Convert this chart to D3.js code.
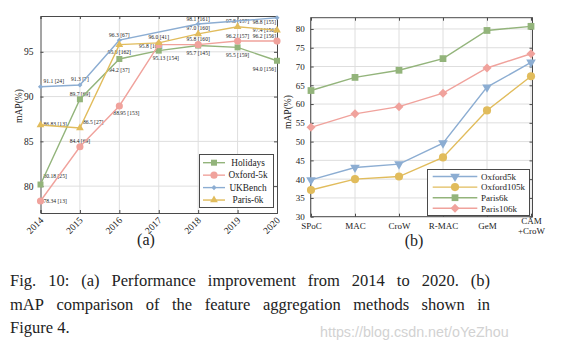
<!DOCTYPE html>
<html>
<head>
<meta charset="utf-8">
<script src="https://cdn.jsdelivr.net/npm/d3@7/dist/d3.min.js"></script>
<style>
  html, body { margin: 0; padding: 0; background: #fff; }
  svg { display: block; }
  text { font-family: "Liberation Serif", "Times New Roman", serif; fill: #222; }
  text.wm { font-family: "Liberation Sans", Arial, sans-serif; fill: #d2d2d2; }
</style>
</head>
<body>
<svg id="chart" width="564" height="353"></svg>
<script>
// ---------- DATA (a) ----------
const years = [2014, 2015, 2016, 2017, 2018, 2019, 2020];
const holidays = [80.18, 89.7, 94.2, 95.13, 95.7, 95.5, 94.0];
const oxford5k = [78.34, 84.4, 88.95, 95.8, 95.8, 96.2, 96.2];
const ukbench  = [91.1, 91.3, 96.3, null, 98.1, null, 98.8];
const paris6k  = [86.83, 86.5, 95.8, 96.0, 97.0, 97.8, 97.4];
const holidaysLabels = ["80.18 [25]", "89.7 [69]", "94.2 [37]", "95.13 [154]", "95.7 [145]", "95.5 [159]", "94.0 [156]"];
const oxford5kLabels = ["78.34 [13]", "84.4 [69]", "88.95 [153]", "95.8 [160]", "95.8 [160]", "96.2 [157]", "96.2 [156]"];
const ukbenchLabels  = ["91.1 [24]", "91.3 [7]", "96.3 [67]", null, "98.1 [161]", null, "98.8 [155]"];
const paris6kLabels  = ["86.83 [13]", "86.5 [27]", "95.8 [162]", "96.0 [41]", "97.0 [160]", "97.8 [157]", "97.4 [156]"];
const yTicksA = [80, 85, 90, 95];

// ---------- DATA (b) ----------
const methods = ["SPoC", "MAC", "CroW", "R-MAC", "GeM", "CAM+CroW"];
const oxford5kB   = [39.8, 43.1, 44.0, 49.6, 64.5, 71.1];
const oxford105kB = [37.1, 40.0, 40.7, 45.8, 58.3, 67.4];
const paris6kB    = [63.6, 67.1, 69.0, 72.1, 79.6, 80.7];
const paris106kB  = [53.8, 57.4, 59.3, 62.9, 69.6, 73.4];
const yTicksB = [30, 35, 40, 45, 50, 55, 60, 65, 70, 75, 80];

// ---------- STYLE ----------
const C = { green: "#93b47b", pink: "#f0a29c", blue: "#8cadd2", yellow: "#e1bc5c" };
const frameColor = "#4a4a4a", gridColor = "#dedede";

// label placement codes for (a): [anchor, dx, dy]
const place = {
  a: ["middle", 0, -3.5], b: ["middle", 0, 9.5], bb: ["middle", 0, 13],
  br: ["start", -6, 9.5], r: ["start", 3, 1.5], ru: ["start", 3, -4], ruu: ["start", 3, -7],
  lc: ["end", 3.5, 3.5], le: ["end", -1, 6], lf: ["end", -1, 1.5], la: ["end", -1, -3], lb: ["end", -1, 10]
};
const seriesA = [
  { name: "Holidays",  vals: holidays, labels: holidaysLabels, color: C.green,  sym: "square",
    pos: ["ruu", "a", "bb", "br", "b", "b", "lb"] },
  { name: "Oxford-5k", vals: oxford5k, labels: oxford5kLabels, color: C.pink,   sym: "circle",
    pos: ["r", "a", "br", "lc", "a", "a", "la"] },
  { name: "UKBench",   vals: ukbench,  labels: ukbenchLabels,  color: C.blue,   sym: "diamondS",
    pos: ["ru", "a", "a", null, "a", null, "le"] },
  { name: "Paris-6k",  vals: paris6k,  labels: paris6kLabels,  color: C.yellow, sym: "triangle",
    pos: ["r", "ru", "b", "a", "a", "a", "lf"] }
];
const seriesB = [
  { name: "Oxford5k",   vals: oxford5kB,   color: C.blue,   sym: "triDown" },
  { name: "Oxford105k", vals: oxford105kB, color: C.yellow, sym: "circleB" },
  { name: "Paris6k",    vals: paris6kB,    color: C.green,  sym: "squareB" },
  { name: "Paris106k",  vals: paris106kB,  color: C.pink,   sym: "diamondB" }
];

const svg = d3.select("#chart");
svg.append("rect").attr("width", 564).attr("height", 353).attr("fill", "#fff");

function marker(g, sym, color, x, y) {
  let type, size, rot = 0;
  switch (sym) {
    case "square":   type = d3.symbolSquare; size = 36; break;
    case "circle":   type = d3.symbolCircle; size = 40; break;
    case "diamondS": type = d3.symbolSquare; size = 13; rot = 45; break;
    case "triangle": type = d3.symbolTriangle; size = 26; break;
    case "triDown":  type = d3.symbolTriangle; size = 40; rot = 180; break;
    case "circleB":  type = d3.symbolCircle; size = 52; break;
    case "squareB":  type = d3.symbolSquare; size = 46; break;
    case "diamondB": type = d3.symbolSquare; size = 40; rot = 45; break;
  }
  g.append("path").attr("d", d3.symbol().type(type).size(size)())
    .attr("transform", `translate(${x},${y}) rotate(${rot})`)
    .attr("fill", color);
}

// ================= CHART (a) =================
const xA = d3.scaleLinear().domain([2014, 2020]).range([40.5, 277]);
const yA = d3.scaleLinear().domain([77, 99]).range([213, 16]);
const gA = svg.append("g");

gA.append("g").selectAll("line").data(years.slice(1, -1)).join("line")
  .attr("x1", d => xA(d)).attr("x2", d => xA(d)).attr("y1", yA(77)).attr("y2", yA(99))
  .attr("stroke", gridColor).attr("stroke-width", 1);
gA.append("g").selectAll("line").data(yTicksA).join("line")
  .attr("x1", xA(2014)).attr("x2", xA(2020)).attr("y1", d => yA(d)).attr("y2", d => yA(d))
  .attr("stroke", gridColor).attr("stroke-width", 1);

const axLA = gA.append("g").attr("transform", `translate(${xA(2014)},0)`)
  .call(d3.axisLeft(yA).tickValues(yTicksA).tickSize(-3).tickPadding(7).tickFormat(d3.format("d")));
const axBA = gA.append("g").attr("transform", `translate(0,${yA(77)})`)
  .call(d3.axisBottom(xA).tickValues(years).tickSize(-3).tickFormat(d3.format("d")));
gA.append("g").attr("transform", `translate(${xA(2020)},0)`)
  .call(d3.axisRight(yA).tickValues(yTicksA).tickSize(-3).tickFormat(""));
gA.append("g").attr("transform", `translate(0,${yA(99)})`)
  .call(d3.axisTop(xA).tickValues(years).tickSize(-3).tickFormat(""));
gA.selectAll(".domain").attr("stroke", frameColor);
gA.selectAll(".tick line").attr("stroke", frameColor);
axLA.selectAll("text").attr("font-size", 9.5).attr("font-family", "Liberation Serif").attr("fill", "#222");
axBA.selectAll("text").attr("font-size", 9.5).attr("font-family", "Liberation Serif").attr("fill", "#222")
  .attr("text-anchor", "end").attr("dy", 0).attr("y", 0)
  .attr("transform", "translate(3,8) rotate(-45)");

gA.append("text").attr("transform", "translate(21.5,106) rotate(-90)")
  .attr("text-anchor", "middle").attr("font-size", 9.5).text("mAP(%)");

const labA = gA.append("g");
seriesA.forEach(s => {
  s.vals.forEach((v, i) => {
    if (v == null || !s.labels[i]) return;
    const p = place[s.pos[i]];
    labA.append("text").attr("x", xA(years[i]) + p[1]).attr("y", yA(v) + p[2])
      .attr("text-anchor", p[0]).attr("font-size", 5.6).attr("fill", "#333").text(s.labels[i]);
  });
});

const lineA = d3.line().x(d => xA(d[0])).y(d => yA(d[1]));
seriesA.forEach(s => {
  const pts = years.map((y, i) => [y, s.vals[i]]).filter(d => d[1] != null);
  gA.append("path").attr("d", lineA(pts)).attr("fill", "none")
    .attr("stroke", s.color).attr("stroke-width", 1.4);
  const mg = gA.append("g");
  pts.forEach(d => marker(mg, s.sym, s.color, xA(d[0]), yA(d[1])));
});

const legA = gA.append("g");
legA.append("rect").attr("x", 199.5).attr("y", 154.5).attr("width", 74).attr("height", 53)
  .attr("fill", "#fff").attr("stroke", frameColor).attr("stroke-width", 1);
seriesA.forEach((s, i) => {
  const y = 162.7 + i * 12.45;
  legA.append("line").attr("x1", 203).attr("x2", 225).attr("y1", y).attr("y2", y)
    .attr("stroke", s.color).attr("stroke-width", 1.4);
  marker(legA, s.sym, s.color, 214, y);
  legA.append("text").attr("x", 248).attr("y", y + 3.2).attr("text-anchor", "middle")
    .attr("font-size", 9.3).text(s.name);
});

gA.append("text").attr("x", 146).attr("y", 245).attr("text-anchor", "middle")
  .attr("font-size", 16).text("(a)");

// ================= CHART (b) =================
const xB = d3.scalePoint().domain(methods).range([311, 531]);
const yB = d3.scaleLinear().domain([30, 83]).range([216.7, 17.7]);
const gB = svg.append("g");
const bx0 = 310.7, bx1 = 532.5;

gB.append("g").selectAll("line").data(methods).join("line")
  .attr("x1", d => xB(d)).attr("x2", d => xB(d)).attr("y1", yB(30)).attr("y2", yB(83))
  .attr("stroke", gridColor).attr("stroke-width", 1);
gB.append("g").selectAll("line").data(yTicksB).join("line")
  .attr("x1", bx0).attr("x2", bx1).attr("y1", d => yB(d)).attr("y2", d => yB(d))
  .attr("stroke", gridColor).attr("stroke-width", 1);

const axLB = gB.append("g").attr("transform", `translate(${bx0},0)`)
  .call(d3.axisLeft(yB).tickValues(yTicksB).tickSize(-3).tickPadding(6).tickFormat(d3.format("d")));
gB.append("g").attr("transform", `translate(${bx1},0)`)
  .call(d3.axisRight(yB).tickValues(yTicksB).tickSize(-3).tickFormat(""));
gB.append("g").attr("transform", `translate(0,${yB(83)})`)
  .call(d3.axisTop(xB).tickSize(-3).tickFormat(""));
const axBB = gB.append("g").attr("transform", `translate(0,${yB(30)})`)
  .call(d3.axisBottom(xB).tickSize(-3).tickFormat(""));
gB.selectAll(".tick line").attr("stroke", frameColor);
gB.selectAll(".domain").remove();
gB.append("rect").attr("x", bx0).attr("y", yB(83)).attr("width", bx1 - bx0).attr("height", yB(30) - yB(83))
  .attr("fill", "none").attr("stroke", frameColor).attr("stroke-width", 1);
axLB.selectAll("text").attr("font-size", 9).attr("font-family", "Liberation Serif").attr("fill", "#222");

axBB.selectAll(".tick").each(function (d) {
  const t = d3.select(this);
  const parts = d.includes("+") ? [d.split("+")[0], "+" + d.split("+")[1]] : [d];
  if (parts.length === 1) {
    t.append("text").attr("y", 12.3).attr("text-anchor", "middle").attr("font-size", 9)
      .attr("fill", "#222").text(parts[0]);
  } else {
    t.append("text").attr("y", 7.3).attr("text-anchor", "middle").attr("font-size", 9)
      .attr("fill", "#222").text(parts[0]);
    t.append("text").attr("y", 17.3).attr("text-anchor", "middle").attr("font-size", 9)
      .attr("fill", "#222").text(parts[1]);
  }
});

gB.append("text").attr("transform", "translate(291,112) rotate(-90)")
  .attr("text-anchor", "middle").attr("font-size", 9.5).text("mAP(%)");

const lineB = d3.line().x(d => xB(d[0])).y(d => yB(d[1]));
seriesB.forEach(s => {
  const pts = methods.map((m, i) => [m, s.vals[i]]);
  gB.append("path").attr("d", lineB(pts)).attr("fill", "none")
    .attr("stroke", s.color).attr("stroke-width", 1.4);
  const mg = gB.append("g");
  pts.forEach(d => marker(mg, s.sym, s.color, xB(d[0]), yB(d[1])));
});

const legB = gB.append("g");
legB.append("rect").attr("x", 427.5).attr("y", 169.5).attr("width", 102).attr("height", 46)
  .attr("fill", "#fff").attr("stroke", frameColor).attr("stroke-width", 1);
seriesB.forEach((s, i) => {
  const y = 176.5 + i * 10.6;
  legB.append("line").attr("x1", 432.7).attr("x2", 477.3).attr("y1", y).attr("y2", y)
    .attr("stroke", s.color).attr("stroke-width", 1.4);
  marker(legB, s.sym, s.color, 455, y);
  legB.append("text").attr("x", 481).attr("y", y + 3.2).attr("font-size", 9).text(s.name);
});

gB.append("text").attr("x", 414).attr("y", 246).attr("text-anchor", "middle")
  .attr("font-size", 16).text("(b)");

// ================= CAPTION =================
const capLines = [
  { text: "Fig. 10: (a) Performance improvement from 2014 to 2020. (b)", y: 286, justify: true },
  { text: "mAP comparison of the feature aggregation methods shown in", y: 309.5, justify: true },
  { text: "Figure 4.", y: 333, justify: false }
];
const cap = svg.append("g");
capLines.forEach(l => {
  const words = l.text.split(" ");
  const ts = words.map(w => cap.append("text").attr("y", l.y).attr("font-size", 16.5)
    .attr("font-family", "Liberation Serif").attr("fill", "#111").text(w));
  const ws = ts.map(t => t.node().getComputedTextLength());
  const total = d3.sum(ws);
  const gap = l.justify ? (490 - 10 - total) / (words.length - 1) : 4.2;
  let x = 10;
  ts.forEach((t, i) => { t.attr("x", x); x += ws[i] + gap; });
});

svg.append("text").attr("class", "wm").attr("x", 320).attr("y", 337).attr("font-size", 14.3)
  .text("https://blog.csdn.net/oYeZhou");
</script>
</body>
</html>
